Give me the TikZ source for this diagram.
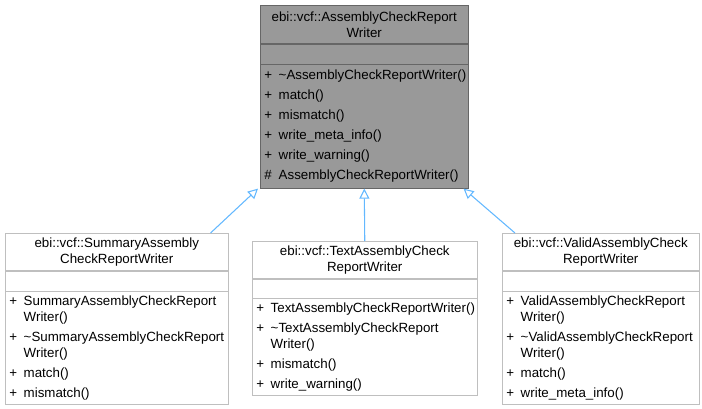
\documentclass[tikz,border=0pt]{standalone}
\usepackage{fontspec}
\setmainfont{Liberation Sans}
\usetikzlibrary{arrows.meta}

\definecolor{basefill}{HTML}{999999}
\definecolor{baseline}{HTML}{666666}
\definecolor{subline}{HTML}{BFBFBF}
\definecolor{inhline}{HTML}{63B8FF}

\tikzset{
  sec/.style={draw=#1, anchor=north west, inner xsep=3pt, inner ysep=0pt,
    font=\fontsize{10}{12}\selectfont},
  titlesec/.style={sec=#1, align=center},
  membsec/.style={sec=#1, align=left},
  inherit/.style={draw=inhline, thick,
    -{Triangle[open, length=7.5pt, width=7.5pt, fill=white]}}
}
\newcommand{\membrows}[1]{\begin{tabular}{@{}l@{\hspace{5pt}}l@{}}#1\end{tabular}}

\begin{document}
\begin{tikzpicture}[x=0.75pt, y=-0.75pt]
  \useasboundingbox (0,0) rectangle (702,408);

  % --- 1. Base class ---
  \node[titlesec=baseline, fill=basefill, text width=150pt, minimum height=28.5pt]
    (basetitle) at (260,5) {ebi::vcf::AssemblyCheckReport\\Writer};
  \node[sec=baseline, fill=basefill, minimum width=156pt, minimum height=15pt]
    (baseattr) at (basetitle.south west) {};
  \node[membsec=baseline, fill=basefill, text width=150pt, minimum height=93pt]
    (basememb) at (baseattr.south west) {\membrows{
      + & \textasciitilde AssemblyCheckReportWriter()\\[3pt]
      + & match()\\[3pt]
      + & mismatch()\\[3pt]
      + & write\_meta\_info()\\[3pt]
      + & write\_warning()\\[3pt]
      \# & AssemblyCheckReportWriter()}};

  % --- 2. Summary writer ---
  \node[titlesec=subline, text width=161.25pt, minimum height=27.75pt]
    (sumtitle) at (5,233) {ebi::vcf::SummaryAssembly\\CheckReportWriter};
  \node[sec=subline, minimum width=167.25pt, minimum height=15pt]
    (sumattr) at (sumtitle.south west) {};
  \node[membsec=subline, text width=161.25pt, minimum height=84.75pt]
    (summemb) at (sumattr.south west) {\membrows{
      + & SummaryAssemblyCheckReport\\ & Writer()\\[3pt]
      + & \textasciitilde SummaryAssemblyCheckReport\\ & Writer()\\[3pt]
      + & match()\\[3pt]
      + & mismatch()}};

  % --- 3. Text writer ---
  \node[titlesec=subline, text width=162.75pt, minimum height=27.75pt]
    (texttitle) at (252,241) {ebi::vcf::TextAssemblyCheck\\ReportWriter};
  \node[sec=subline, minimum width=168.75pt, minimum height=14.25pt]
    (textattr) at (texttitle.south west) {};
  \node[membsec=subline, text width=162.75pt, minimum height=72.75pt]
    (textmemb) at (textattr.south west) {\membrows{
      + & TextAssemblyCheckReportWriter()\\[3pt]
      + & \textasciitilde TextAssemblyCheckReport\\ & Writer()\\[3pt]
      + & mismatch()\\[3pt]
      + & write\_warning()}};

  % --- 4. Valid writer ---
  \node[titlesec=subline, text width=141.75pt, minimum height=27.75pt]
    (validtitle) at (502,233) {ebi::vcf::ValidAssemblyCheck\\ReportWriter};
  \node[sec=subline, minimum width=147.75pt, minimum height=15pt]
    (validattr) at (validtitle.south west) {};
  \node[membsec=subline, text width=141.75pt, minimum height=84.75pt]
    (validmemb) at (validattr.south west) {\membrows{
      + & ValidAssemblyCheckReport\\ & Writer()\\[3pt]
      + & \textasciitilde ValidAssemblyCheckReport\\ & Writer()\\[3pt]
      + & match()\\[3pt]
      + & write\_meta\_info()}};

  % --- 5. Inheritance ---
  \draw[inherit] ([xshift=-13.5pt]sumtitle.north east) -- ([xshift=-1.5pt]basememb.south west);
  \draw[inherit] (texttitle.north) -- (basememb.south);
  \draw[inherit] ([xshift=9.75pt]validtitle.north west) -- ([xshift=-3.75pt]basememb.south east);
\end{tikzpicture}
\end{document}
